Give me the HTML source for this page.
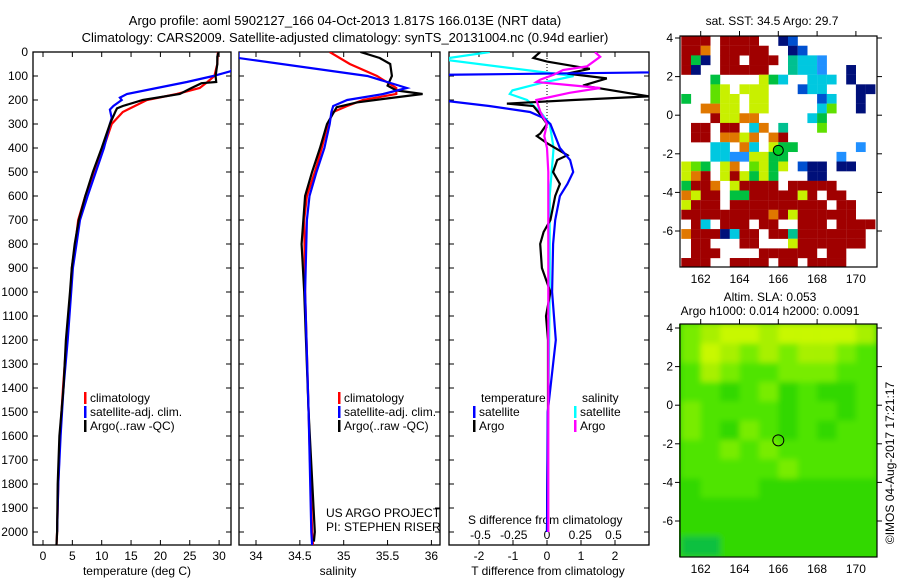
<!DOCTYPE html>
<html><head><meta charset="utf-8"><style>
body{margin:0;background:#fff;}
svg{display:block;font-family:"Liberation Sans",sans-serif;}
text{fill:#000;}
</style></head><body>
<svg id="s" width="900" height="580" xmlns="http://www.w3.org/2000/svg">
<defs>
<clipPath id="c1"><rect x="33" y="52" width="198" height="493"/></clipPath>
<clipPath id="c2"><rect x="239" y="52" width="201" height="493"/></clipPath>
<clipPath id="c3"><rect x="449" y="52" width="200" height="493"/></clipPath>
<clipPath id="cm1"><rect x="680" y="36" width="197" height="231"/></clipPath>
<clipPath id="cm2"><rect x="679" y="324" width="198" height="233"/></clipPath>
<filter id="bl"><feGaussianBlur stdDeviation="3"/></filter>
</defs>
<text x="345" y="25" font-size="13" text-anchor="middle">Argo profile: aoml 5902127_166 04-Oct-2013 1.817S 166.013E (NRT data)</text>
<text x="345" y="42" font-size="13" text-anchor="middle">Climatology: CARS2009. Satellite-adjusted climatology: synTS_20131004.nc (0.94d earlier)</text>
<text x="772" y="25" font-size="12" text-anchor="middle">sat. SST: 34.5 Argo: 29.7</text>
<text x="770" y="301" font-size="12" text-anchor="middle">Altim. SLA: 0.053</text>
<text x="770" y="315" font-size="12" text-anchor="middle">Argo h1000: 0.014 h2000: 0.0091</text>
<text transform="translate(894,463) rotate(-90)" font-size="12" text-anchor="middle">©IMOS 04-Aug-2017 17:21:17</text>
<text x="326" y="517" font-size="12">US ARGO PROJECT</text>
<text x="326" y="531" font-size="12">PI: STEPHEN RISER</text>
<text x="468" y="524" font-size="12">S difference from climatology</text>
<text x="137" y="575" font-size="12" text-anchor="middle">temperature (deg C)</text>
<text x="338" y="575" font-size="12" text-anchor="middle">salinity</text>
<text x="548" y="575" font-size="12" text-anchor="middle">T difference from climatology</text>
</svg>
<script>
const depthTicks=[0,100,200,300,400,500,600,700,800,900,1000,1100,1200,1300,1400,1500,1600,1700,1800,1900,2000];
const tempTicks=[0,5,10,15,20,25,30];
const salTicks=[34,34.5,35,35.5,36];
const dtTicks=[-2,-1,0,1,2];
const dsTicks=[-0.5,-0.25,0,0.25,0.5];
const dsTickLabels=["-0.5","-0.25","0","0.25","0.5"];

const tDepC=[0,50,100,125,150,175,200,250,300,400,500,600,700,800,900,1000,1200,1400,1600,1800,2000,2054];
const tClim=[29.8,29.7,29.2,28.0,26.7,22.8,17.7,13.6,11.7,10.3,8.7,7.2,6.0,5.5,4.9,4.7,4.0,3.4,2.9,2.6,2.4,2.3];
const tDepA=[0,20,50,100,125,130,150,175,200,225,235,250,300,400,500,600,700,800,900,1000,1200,1400,1600,1800,2000,2054];
const tArgo=[29.9,29.7,29.7,29.4,29.5,27,25.3,23.3,17,13.6,12.6,12.3,11.4,10.0,8.5,7.2,6.1,5.4,4.9,4.6,3.9,3.5,2.8,2.5,2.4,2.3];
const tDepS=[0,80,100,125,150,175,190,200,225,240,275,300,400,500,600,700,800,900,1000,1200,1400,1600,1800,2000];
const tSat=[34,32,29,24.5,19.4,14.3,13.1,13.4,12,11.4,11.7,11.4,10.4,9.0,7.6,6.3,5.7,5.1,4.8,4.2,3.5,3.0,2.6,2.4];

const sDepC=[0,50,100,150,175,200,225,250,300,400,500,600,700,1000,1500,2000,2054];
const sClim=[34.84,35.07,35.38,35.6,35.6,35.22,35.04,34.88,34.82,34.75,34.67,34.58,34.55,34.56,34.6,34.64,34.65];
const sDepA=[0,25,50,100,140,160,175,190,210,230,300,400,500,600,800,1000,1500,2000,2040];
const sArgo=[35.19,35.41,35.53,35.55,35.5,35.6,35.9,35.57,35.15,34.92,34.81,34.73,34.64,34.56,34.52,34.55,34.6,34.67,34.66];
const sDepS=[0,25,100,150,175,200,225,250,300,400,500,600,700,1000,1500,2000,2054];
const sSat=[33.8,33.8,35.27,35.72,35.45,35.04,34.88,34.86,34.84,34.78,34.69,34.61,34.58,34.56,34.6,34.63,34.64];

const dtDepS=[0,85,95,200,225,250,275,300,400,450,500,550,600,700,800,1000,1200,1300,1500,2000];
const dtSat=[4,3,-3,-3.2,-1.7,-0.5,-0.1,0.1,0.38,0.68,0.77,0.6,0.38,0.24,0.18,0.15,0.26,0.18,0.02,0];
const dtDepA=[0,25,40,70,90,110,140,170,185,200,215,225,260,300,340,350,380,430,450,500,550,600,700,750,800,900,1000,1100,1200,1500,2000];
const dtArgo=[-0.2,-0.4,0,1.26,0.6,1.76,1.06,2.35,3.0,0.77,-1.18,-0.4,-0.2,0,-0.2,-0.3,0,0.6,0.3,0.18,0.38,0.24,0.1,-0.1,-0.2,-0.15,0.1,-0.03,0.03,0.03,0];
const dsDepS=[0,30,100,130,160,175,200,250,300,400,600,800,1000,1500,2000];
const dsSat=[-0.43,-0.8,0.2,-0.05,-0.26,-0.28,-0.15,-0.05,0.02,0.05,0.02,0.02,0.02,0.01,0];
const dsDepA=[0,20,60,75,95,115,125,150,170,200,250,300,350,400,500,1000,2000];
const dsArgo=[0.36,0.4,0.3,0.12,0.05,-0.05,-0.08,0.4,0.17,-0.08,-0.05,0,-0.02,0,0.01,0.01,0.01];

const sstGrid=[
"RRR.RRRR..NB........",
"RRO.RRRRR..NB.......",
"RGN.RR.RRR.TCCS.....",
"RN..RRRRR..TCCS..N..",
"...G....YGC..CCC.N..",
"...LY.YYY...BCC...NN",
"G..LYY.YY.....BC..N.",
"..OOYY.YY.....CL..N.",
"...RYYOO.....CG.....",
".RR.RR.CO.T...L.....",
".RR.OOYO.OR.........",
"...CC.OC.YGG......S.",
"...CCSSYYGG.....S...",
"YLG.YO.LYGY.BNN.NN..",
"YOR.YRYGYG...NN.....",
"GRRO.YRRRR.RRRRR....",
"OYRR.GGRRRRRYR.RR...",
"YRRR.RRRRRRRRRR.RR..",
"RRRRRRRRRORYRRRRRR..",
".RC.RRR.RR..RRR.RRRR",
"ORRRNCRR.RRTRRRRRRR.",
".RR...RR...YRRRRRRR.",
".RRR....RRRRRR.RR...",
"RRR..RRRR.RR.RRRR..."];
const sstColors={R:"#a00000",O:"#e07800",Y:"#c8f000",G:"#00c040",L:"#60e000",C:"#00c8e0",B:"#0050d0",N:"#00107a",S:"#2090ff",T:"#00c090"};
const slaGrid=[
"3455455554",
"3543434432",
"2432233322",
"2212312112",
"3222212212",
"3213212122",
"2232322222",
"2222232222",
"1222111111",
"1111111111",
"1111111111",
"0011111111"];
const slaColors=["#10c040","#30d800","#50e400","#78ec00","#a8f000","#c8f800"];

const NS="http://www.w3.org/2000/svg";
const svg=document.getElementById('s');
function mk(tag,attrs,parent){const e=document.createElementNS(NS,tag);for(const k in attrs)e.setAttribute(k,attrs[k]);(parent||svg).appendChild(e);return e;}
const yD=d=>52+d*0.24;
const xT=v=>43+v*5.87;
const xS=v=>256+(v-34)*87.7;
const xDT=v=>547+v*34;
const xDS=v=>547+v*133;

function series(dep,val,xf,color,clip,name){
  const pts=dep.map((d,i)=>xf(val[i]).toFixed(1)+","+yD(d).toFixed(1)).join(" ");
  const p=mk('polyline',{points:pts,fill:'none',stroke:color,'stroke-width':2.2,'clip-path':'url(#'+clip+')'});
  
  
}
function panel(x0,x1,name,xf,ticks,labels,withDepthLabels){
  const r=mk('rect',{x:x0,y:52,width:x1-x0,height:493,fill:'none',stroke:'#000','stroke-width':1.3});
  
  
  depthTicks.forEach(d=>{
    mk('line',{x1:x0,x2:x0+5,y1:yD(d),y2:yD(d),stroke:'#000'});
    mk('line',{x1:x1-5,x2:x1,y1:yD(d),y2:yD(d),stroke:'#000'});
    if(withDepthLabels){
      const t=mk('text',{x:x0-5,y:yD(d)+4,'font-size':12,'text-anchor':'end'});t.textContent=d;
      
      
    }
  });
  ticks.forEach((v,i)=>{
    const x=xf(v);
    mk('line',{x1:x,x2:x,y1:545,y2:540,stroke:'#000'});
    mk('line',{x1:x,x2:x,y1:52,y2:57,stroke:'#000'});
    const t=mk('text',{x:x,y:560,'font-size':12,'text-anchor':'middle'});t.textContent=labels[i];
    
    
  });
}
panel(33,231,'temperature-panel',xT,tempTicks,tempTicks.map(String),true);
panel(239,440,'salinity-panel',xS,salTicks,salTicks.map(String),false);
panel(449,649,'difference-panel',xDT,dtTicks,dtTicks.map(String),false);
dsTicks.forEach((v,i)=>{
  const t=mk('text',{x:xDS(v),y:539,'font-size':12,'text-anchor':'middle'});t.textContent=dsTickLabels[i];
  
  
});
const zl=mk('line',{x1:547,x2:547,y1:52,y2:yD(320),stroke:'#000','stroke-dasharray':'1,2'});



series(tDepC,tClim,xT,'#f00','c1','temp-climatology-line');
series(tDepS,tSat,xT,'#00f','c1','temp-satellite-line');
series(tDepA,tArgo,xT,'#000','c1','temp-argo-line');
series(sDepC,sClim,xS,'#f00','c2','sal-climatology-line');
series(sDepA,sArgo,xS,'#000','c2','sal-argo-line');
series(sDepS,sSat,xS,'#00f','c2','sal-satellite-line');
series(dsDepS,dsSat,xDS,'#0ff','c3','s-diff-satellite-line');
series(dtDepA,dtArgo,xDT,'#000','c3','t-diff-argo-line');
series(dtDepS,dtSat,xDT,'#00f','c3','t-diff-satellite-line');
series(dsDepA,dsArgo,xDS,'#f0f','c3','s-diff-argo-line');

function legend(x,y,color,label,name){
  const b=mk('rect',{x:x,y:y-10,width:2.5,height:12,fill:color});
  
  
  const t=mk('text',{x:x+6,y:y,'font-size':12});t.textContent=label;
  
  
}
legend(84,402,'#f00','climatology','legend-climatology');
legend(84,416,'#00f','satellite-adj. clim.','legend-satellite');
legend(84,430,'#000','Argo(..raw -QC)','legend-argo');
legend(338,402,'#f00','climatology','legend-sal-climatology');
legend(338,416,'#00f','satellite-adj. clim.','legend-sal-satellite');
legend(338,430,'#000','Argo(..raw -QC)','legend-sal-argo');
const lt=mk('text',{x:481,y:402,'font-size':12});lt.textContent='temperature';


const ls=mk('text',{x:582,y:402,'font-size':12});ls.textContent='salinity';


legend(473,416,'#00f','satellite','legend-t-satellite');
legend(473,430,'#000','Argo','legend-t-argo');
legend(574,416,'#0ff','satellite','legend-s-satellite');
legend(574,430,'#f0f','Argo','legend-s-argo');

const lonX=v=>700.7+(v-162)*19.4;
const lat1Y=v=>38+(4-v)*19.3;
const lat2Y=v=>328+(4-v)*19.3;
const g1=mk('g',{'clip-path':'url(#cm1)'});


sstGrid.forEach((row,r)=>{[...row].forEach((ch,c)=>{
  if(ch==='.')return;
  const lo=161+c*0.5, la=4.1-r*0.5;
  mk('rect',{x:lonX(lo),y:lat1Y(la),width:9.8,height:9.8,fill:sstColors[ch]},g1);
});});
const g2o=mk('g',{'clip-path':'url(#cm2)'});
const g2=mk('g',{filter:'url(#bl)'},g2o);


mk('rect',{x:670,y:315,width:215,height:250,fill:slaColors[1]},g2);
slaGrid.forEach((row,r)=>{[...row].forEach((ch,c)=>{
  const lo=161+c, la=4.2-r;
  mk('rect',{x:lonX(lo),y:lat2Y(la),width:19.6,height:19.6,fill:slaColors[+ch]},g2);
});});
function mapFrame(top,bot,latY,name){
  const r=mk('rect',{x:680,y:top,width:197,height:bot-top,fill:'none',stroke:'#000','stroke-width':1.2});
  
  
  [4,2,0,-2,-4,-6].forEach(v=>{
    const y=latY(v);
    mk('line',{x1:675,x2:680,y1:y,y2:y,stroke:'#000'});
    mk('line',{x1:877,x2:882,y1:y,y2:y,stroke:'#000'});
    const t=mk('text',{x:673,y:y+4,'font-size':12,'text-anchor':'end'});t.textContent=v;
    
    
  });
  [162,164,166,168,170].forEach(v=>{
    const x=lonX(v);
    mk('line',{x1:x,x2:x,y1:top-5,y2:top,stroke:'#000'});
    const t=mk('text',{x:x,y:bot+16,'font-size':12,'text-anchor':'middle'});t.textContent=v;
    
    
  });
}
mapFrame(36,267,lat1Y,'sst-map-frame');
mapFrame(324,557,lat2Y,'sla-map-frame');
const m1=mk('circle',{cx:lonX(166),cy:lat1Y(-1.82),r:5,fill:'#00d020',stroke:'#000'});


const m2=mk('circle',{cx:lonX(166),cy:lat2Y(-1.82),r:5.5,fill:'none',stroke:'#000'});


</script>
</body></html>
